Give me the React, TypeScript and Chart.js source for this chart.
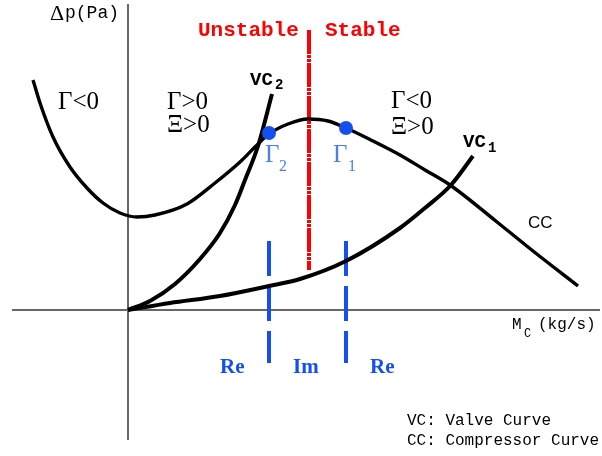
import React, { useEffect, useRef } from "react";
import { Chart, registerables } from "chart.js";

Chart.register(...registerables);

// Mass flow (x) and pressure rise (y), arbitrary units
const ccX = [-0.95, -0.88, -0.75, -0.58, -0.41, -0.25, -0.08, 0.09, 0.27, 0.59, 0.87, 1.12, 1.27, 1.41, 1.6, 1.8, 2.0, 2.18, 2.45, 2.72, 2.97, 3.22, 3.69, 4.05, 4.5];
const ccY = [2.3, 2.07, 1.73, 1.43, 1.22, 1.07, 0.97, 0.93, 0.95, 1.06, 1.27, 1.48, 1.63, 1.76, 1.86, 1.91, 1.89, 1.82, 1.69, 1.55, 1.4, 1.25, 0.88, 0.59, 0.24];

const vc2X = [0, 0.22, 0.47, 0.72, 0.92, 1.07, 1.17, 1.3, 1.44];
const vc2Y = [0, 0.09, 0.26, 0.51, 0.77, 1.05, 1.3, 1.64, 2.16];

const vc1X = [0, 0.42, 0.92, 1.41, 1.72, 2.18, 2.72, 2.97, 3.23, 3.45];
const vc1Y = [0, 0.07, 0.14, 0.24, 0.31, 0.49, 0.82, 1.02, 1.25, 1.54];

// Operating points Γ2 and Γ1 on the compressor curve
const opX = [1.41, 2.18];
const opY = [1.77, 1.82];

// Stability boundary and Re/Im region boundaries
const boundaryX = 1.81;
const boundaryY = [2.8, 0.4];
const regionX = [1.41, 2.18];
const regionY = [0.69, -0.53];

// Axis extents
const xAxisX = [-1.16, 4.72];
const yAxisY = [3.06, -1.3];

const pts = (xs: number[], ys: number[]) => xs.map((x, i) => ({ x, y: ys[i] }));

type Label = { text: string; x: number; y: number; font: string; color: string };

const MONO = "'Liberation Mono', 'Courier New', monospace";
const SERIF = "'Liberation Serif', 'Times New Roman', serif";
const BLUE_TXT = "#4a7ef2";
const BLUE = "#1450f0";
const RED = "#ff0000";

const labels: Label[] = [
  { text: "Δ", x: -0.78, y: 2.9, font: `22px ${SERIF}`, color: "#000" },
  { text: "p(Pa)", x: -0.63, y: 2.92, font: `18px ${MONO}`, color: "#000" },
  { text: "Unstable", x: 0.7, y: 2.74, font: `bold 21px ${MONO}`, color: RED },
  { text: "Stable", x: 1.97, y: 2.74, font: `bold 21px ${MONO}`, color: RED },
  { text: "Γ<0", x: -0.7, y: 2.01, font: `25px ${SERIF}`, color: "#000" },
  { text: "Γ>0", x: 0.39, y: 2.01, font: `25px ${SERIF}`, color: "#000" },
  { text: "Ξ>0", x: 0.39, y: 1.78, font: `25px ${SERIF}`, color: "#000" },
  { text: "Γ<0", x: 2.63, y: 2.02, font: `25px ${SERIF}`, color: "#000" },
  { text: "Ξ>0", x: 2.63, y: 1.76, font: `25px ${SERIF}`, color: "#000" },
  { text: "VC", x: 1.22, y: 2.25, font: `bold 19px ${MONO}`, color: "#000" },
  { text: "2", x: 1.47, y: 2.21, font: `bold 14px ${MONO}`, color: "#000" },
  { text: "VC", x: 3.35, y: 1.63, font: `bold 19px ${MONO}`, color: "#000" },
  { text: "1", x: 3.6, y: 1.58, font: `bold 14px ${MONO}`, color: "#000" },
  { text: "CC", x: 4.0, y: 0.82, font: "17px 'Liberation Sans', Arial, sans-serif", color: "#000" },
  { text: "Γ", x: 1.37, y: 1.48, font: `25px ${SERIF}`, color: BLUE_TXT },
  { text: "2", x: 1.51, y: 1.39, font: `16px ${SERIF}`, color: BLUE_TXT },
  { text: "Γ", x: 2.05, y: 1.48, font: `25px ${SERIF}`, color: BLUE_TXT },
  { text: "1", x: 2.2, y: 1.39, font: `16px ${SERIF}`, color: BLUE_TXT },
  { text: "Re", x: 0.92, y: -0.63, font: `bold 21px ${SERIF}`, color: BLUE },
  { text: "Im", x: 1.65, y: -0.63, font: `bold 21px ${SERIF}`, color: BLUE },
  { text: "Re", x: 2.42, y: -0.63, font: `bold 21px ${SERIF}`, color: BLUE },
  { text: "M", x: 3.84, y: -0.19, font: `16px ${MONO}`, color: "#000" },
  { text: "C", x: 3.96, y: -0.27, font: `12px ${MONO}`, color: "#000" },
  { text: "(kg/s)", x: 4.1, y: -0.19, font: `16px ${MONO}`, color: "#000" },
  { text: "VC: Valve Curve", x: 2.79, y: -1.15, font: `16px ${MONO}`, color: "#000" },
  { text: "CC: Compressor Curve", x: 2.79, y: -1.35, font: `16px ${MONO}`, color: "#000" },
];

const labelPlugin = {
  id: "diagramLabels",
  afterDatasetsDraw(chart: any) {
    const { ctx, scales } = chart;
    ctx.save();
    ctx.textAlign = "left";
    ctx.textBaseline = "alphabetic";
    for (const l of labels) {
      ctx.font = l.font;
      ctx.fillStyle = l.color;
      ctx.fillText(l.text, scales.x.getPixelForValue(l.x), scales.y.getPixelForValue(l.y));
    }
    ctx.restore();
  },
};

export default function App() {
  const ref = useRef<HTMLCanvasElement | null>(null);

  useEffect(() => {
    document.body.style.margin = "0";
    if (!ref.current) return;
    const axisStyle = { borderColor: "#6e6462", borderWidth: 2, pointRadius: 0, tension: 0, order: 10 };
    const curve = { borderColor: "#000", pointRadius: 0, cubicInterpolationMode: "monotone" as const, order: 2 };
    const chart = new Chart(ref.current, {
      type: "line",
      data: {
        datasets: [
          { ...axisStyle, data: pts(xAxisX, [0, 0]) },
          { ...axisStyle, data: pts([0, 0], yAxisY) },
          { ...curve, borderWidth: 3.4, data: pts(ccX, ccY) },
          { ...curve, borderWidth: 4, data: pts(vc2X, vc2Y) },
          { ...curve, borderWidth: 4, data: pts(vc1X, vc1Y) },
          {
            data: pts([boundaryX, boundaryX], boundaryY),
            borderColor: RED,
            borderWidth: 4,
            borderDash: [24, 1, 3, 1, 3, 1],
            pointRadius: 0,
            tension: 0,
            order: 3,
          },
          ...regionX.map((x) => ({
            data: pts([x, x], regionY),
            borderColor: BLUE,
            borderWidth: 4,
            borderDash: [35, 10],
            pointRadius: 0,
            tension: 0,
            order: 3,
          })),
          {
            data: pts(opX, opY),
            showLine: false,
            pointRadius: 7,
            pointBackgroundColor: BLUE,
            pointBorderWidth: 0,
            order: 0,
          },
        ] as any,
      },
      options: {
        animation: false,
        responsive: false,
        layout: { padding: 0, autoPadding: false },
        plugins: { legend: { display: false }, tooltip: { enabled: false } },
        scales: {
          x: { type: "linear", min: -1.28, max: 4.74, display: false },
          y: { type: "linear", min: -1.46, max: 3.1, display: false },
        },
      },
      plugins: [labelPlugin],
    });
    return () => chart.destroy();
  }, []);

  return (
    <div style={{ width: 602, height: 456, background: "#fff" }}>
      <canvas ref={ref} width={602} height={456} />
    </div>
  );
}
